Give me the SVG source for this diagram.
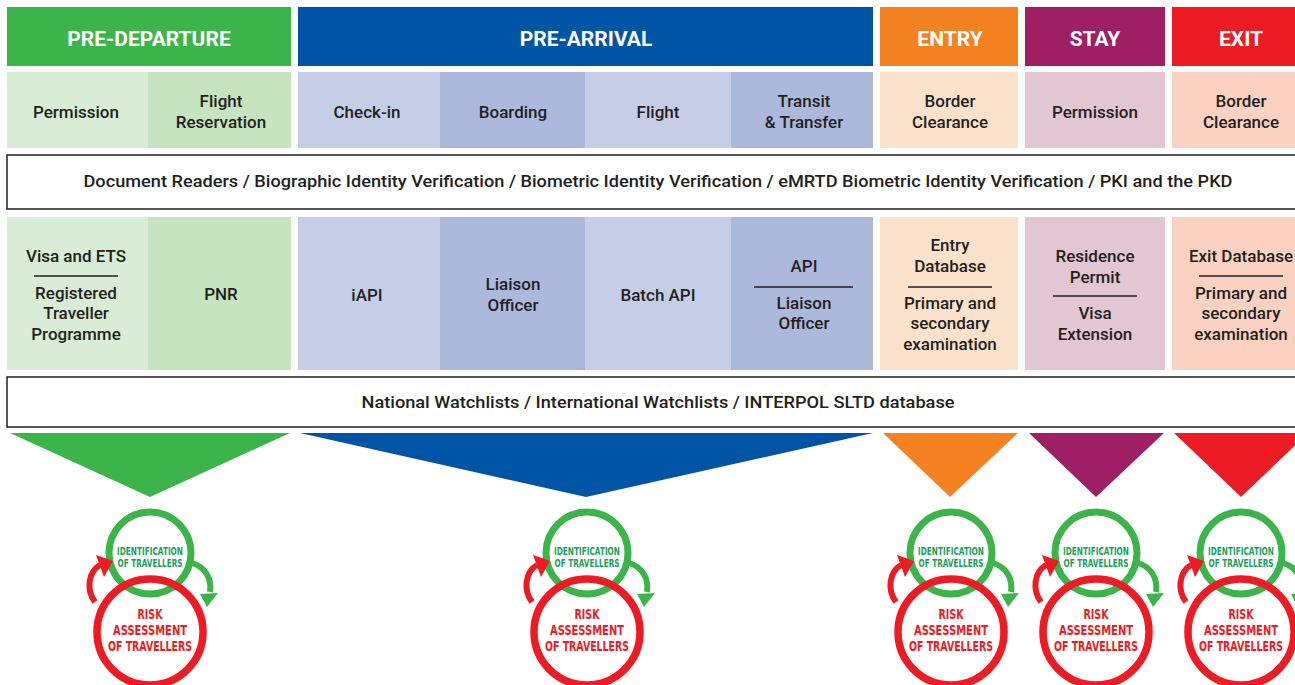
<svg xmlns="http://www.w3.org/2000/svg" width="1295" height="685" viewBox="0 0 1295 685">
<style>
.h{font-family:Roboto,"Liberation Sans",sans-serif;font-weight:bold;font-size:21px;fill:#fff;text-anchor:middle}
.t{font-family:Roboto,"Liberation Sans",sans-serif;font-weight:500;font-size:17px;fill:#231f20;text-anchor:middle}
.b{font-family:Roboto,"Liberation Sans",sans-serif;font-weight:500;font-size:17px;fill:#231f20;text-anchor:middle}
.sep{stroke:#231f20;stroke-width:1.3}
.bar{fill:#fff;stroke:#231f20;stroke-width:1.5}
.gc{fill:none;stroke:#3bb54a;stroke-width:7}
.rc{fill:none;stroke:#ed1c24;stroke-width:7.5}
.ga{fill:none;stroke:#3bb54a;stroke-width:6}
.ra{fill:none;stroke:#ed1c24;stroke-width:6}
.it{font-family:"DejaVu Sans",sans-serif;font-weight:bold;font-size:11px;fill:#1a9e58;text-anchor:middle}
.rt{font-family:"DejaVu Sans",sans-serif;font-weight:bold;font-size:14.5px;fill:#ed1c24;text-anchor:middle}
</style>
<rect width="1295" height="685" fill="#fff"/>

<g id="hdr-pre-departure"><rect x="7" y="7" width="284" height="59" fill="#3bb54a"/><text class="h" x="149" y="46">PRE-DEPARTURE</text></g>
<g id="hdr-pre-arrival"><rect x="298" y="7" width="575" height="59" fill="#0054a6"/><text class="h" x="586" y="46">PRE-ARRIVAL</text></g>
<g id="hdr-entry"><rect x="880" y="7" width="138" height="59" fill="#f48221"/><text class="h" x="950" y="46">ENTRY</text></g>
<g id="hdr-stay"><rect x="1025" y="7" width="140" height="59" fill="#9e1f63"/><text class="h" x="1095" y="46">STAY</text></g>
<g id="hdr-exit"><rect x="1172" y="7" width="140" height="59" fill="#ed1c24"/><text class="h" x="1241" y="46">EXIT</text></g>

<g id="r2-permission"><rect x="7" y="72" width="141" height="76" fill="#d9ecd5"/><text class="t" x="76" y="118">Permission</text></g>
<g id="r2-flight-reservation"><rect x="148" y="72" width="143" height="76" fill="#c6e4c0"/><text class="t" x="221" y="107">Flight</text><text class="t" x="221" y="128">Reservation</text></g>
<g id="r2-checkin"><rect x="298" y="72" width="142" height="76" fill="#c5cde7"/><text class="t" x="367" y="118">Check-in</text></g>
<g id="r2-boarding"><rect x="440" y="72" width="145" height="76" fill="#adb9dc"/><text class="t" x="513" y="118">Boarding</text></g>
<g id="r2-flight"><rect x="585" y="72" width="146" height="76" fill="#c5cde7"/><text class="t" x="658" y="118">Flight</text></g>
<g id="r2-transit"><rect x="731" y="72" width="142" height="76" fill="#adb9dc"/><text class="t" x="804" y="107">Transit</text><text class="t" x="804" y="128">&amp; Transfer</text></g>
<g id="r2-border-entry"><rect x="880" y="72" width="138" height="76" fill="#fde2cb"/><text class="t" x="950" y="107">Border</text><text class="t" x="950" y="128">Clearance</text></g>
<g id="r2-stay-permission"><rect x="1025" y="72" width="140" height="76" fill="#e2c7d2"/><text class="t" x="1095" y="118">Permission</text></g>
<g id="r2-border-exit"><rect x="1172" y="72" width="140" height="76" fill="#fbd2c2"/><text class="t" x="1241" y="107">Border</text><text class="t" x="1241" y="128">Clearance</text></g>

<g id="bar-document"><rect class="bar" x="7" y="155" width="1300" height="54"/><text class="b" x="658" y="187" textLength="1149" lengthAdjust="spacingAndGlyphs">Document Readers / Biographic Identity Verification / Biometric Identity Verification / eMRTD Biometric Identity Verification / PKI and the PKD</text></g>

<g id="r3-visa"><rect x="7" y="217" width="141" height="153" fill="#d9ecd5"/><text class="t" x="76" y="262">Visa and ETS</text><line class="sep" x1="34" y1="276" x2="118" y2="276"/><text class="t" x="76" y="299">Registered</text><text class="t" x="76" y="319">Traveller</text><text class="t" x="76" y="340">Programme</text></g>
<g id="r3-pnr"><rect x="148" y="217" width="143" height="153" fill="#c6e4c0"/><text class="t" x="221" y="300">PNR</text></g>
<g id="r3-iapi"><rect x="298" y="217" width="142" height="153" fill="#c5cde7"/><text class="t" x="367" y="301">iAPI</text></g>
<g id="r3-liaison"><rect x="440" y="217" width="145" height="153" fill="#adb9dc"/><text class="t" x="513" y="290">Liaison</text><text class="t" x="513" y="311">Officer</text></g>
<g id="r3-batch"><rect x="585" y="217" width="146" height="153" fill="#c5cde7"/><text class="t" x="658" y="301">Batch API</text></g>
<g id="r3-api"><rect x="731" y="217" width="142" height="153" fill="#adb9dc"/><text class="t" x="804" y="272">API</text><line class="sep" x1="754" y1="287" x2="853" y2="287"/><text class="t" x="804" y="309">Liaison</text><text class="t" x="804" y="329">Officer</text></g>
<g id="r3-entry"><rect x="880" y="217" width="138" height="153" fill="#fde2cb"/><text class="t" x="950" y="251">Entry</text><text class="t" x="950" y="272">Database</text><line class="sep" x1="908" y1="287" x2="992" y2="287"/><text class="t" x="950" y="309">Primary and</text><text class="t" x="950" y="329">secondary</text><text class="t" x="950" y="350">examination</text></g>
<g id="r3-stay"><rect x="1025" y="217" width="140" height="153" fill="#e2c7d2"/><text class="t" x="1095" y="262">Residence</text><text class="t" x="1095" y="283">Permit</text><line class="sep" x1="1053" y1="296" x2="1137" y2="296"/><text class="t" x="1095" y="319">Visa</text><text class="t" x="1095" y="340">Extension</text></g>
<g id="r3-exit"><rect x="1172" y="217" width="140" height="153" fill="#fbd2c2"/><text class="t" x="1241" y="262">Exit Database</text><line class="sep" x1="1199" y1="276" x2="1283" y2="276"/><text class="t" x="1241" y="299">Primary and</text><text class="t" x="1241" y="319">secondary</text><text class="t" x="1241" y="340">examination</text></g>

<g id="bar-watchlists"><rect class="bar" x="7" y="377" width="1300" height="50"/><text class="b" x="658" y="408" textLength="593" lengthAdjust="spacingAndGlyphs">National Watchlists / International Watchlists / INTERPOL SLTD database</text></g>

<g id="tri-pre-departure"><polygon points="10,433 290,433 150,497" fill="#3bb54a"/></g>
<g id="tri-pre-arrival"><polygon points="300,433 873,433 586,497" fill="#0054a6"/></g>
<g id="tri-entry"><polygon points="883,433 1018,433 950,497" fill="#f48221"/></g>
<g id="tri-stay"><polygon points="1029,433 1164,433 1096,497" fill="#9e1f63"/></g>
<g id="tri-exit"><polygon points="1174,433 1308,433 1241,497" fill="#ed1c24"/></g>

<g id="cycle-pre-departure" transform="translate(150,0)">
<circle class="gc" cx="0" cy="553" r="41"/><circle class="rc" cx="0" cy="632" r="53"/>
<path class="ra" d="M-55,602 C-64,590 -62,572 -50,565"/><polygon points="-54,555 -46,577 -37,561" fill="#ed1c24"/>
<path class="ga" d="M42,563 C55,567 62,578 60,592"/><polygon points="50,594 68,593 57,607" fill="#3bb54a"/>
<text class="it" x="0" y="555" textLength="66" lengthAdjust="spacingAndGlyphs">IDENTIFICATION</text><text class="it" x="0" y="567" textLength="65" lengthAdjust="spacingAndGlyphs">OF TRAVELLERS</text>
<text class="rt" x="0" y="619" textLength="25" lengthAdjust="spacingAndGlyphs">RISK</text><text class="rt" x="0" y="635" textLength="74" lengthAdjust="spacingAndGlyphs">ASSESSMENT</text><text class="rt" x="0" y="651" textLength="84" lengthAdjust="spacingAndGlyphs">OF TRAVELLERS</text>
</g>
<g id="cycle-pre-arrival" transform="translate(587,0)">
<circle class="gc" cx="0" cy="553" r="41"/><circle class="rc" cx="0" cy="632" r="53"/>
<path class="ra" d="M-55,602 C-64,590 -62,572 -50,565"/><polygon points="-54,555 -46,577 -37,561" fill="#ed1c24"/>
<path class="ga" d="M42,563 C55,567 62,578 60,592"/><polygon points="50,594 68,593 57,607" fill="#3bb54a"/>
<text class="it" x="0" y="555" textLength="66" lengthAdjust="spacingAndGlyphs">IDENTIFICATION</text><text class="it" x="0" y="567" textLength="65" lengthAdjust="spacingAndGlyphs">OF TRAVELLERS</text>
<text class="rt" x="0" y="619" textLength="25" lengthAdjust="spacingAndGlyphs">RISK</text><text class="rt" x="0" y="635" textLength="74" lengthAdjust="spacingAndGlyphs">ASSESSMENT</text><text class="rt" x="0" y="651" textLength="84" lengthAdjust="spacingAndGlyphs">OF TRAVELLERS</text>
</g>
<g id="cycle-entry" transform="translate(951,0)">
<circle class="gc" cx="0" cy="553" r="41"/><circle class="rc" cx="0" cy="632" r="53"/>
<path class="ra" d="M-55,602 C-64,590 -62,572 -50,565"/><polygon points="-54,555 -46,577 -37,561" fill="#ed1c24"/>
<path class="ga" d="M42,563 C55,567 62,578 60,592"/><polygon points="50,594 68,593 57,607" fill="#3bb54a"/>
<text class="it" x="0" y="555" textLength="66" lengthAdjust="spacingAndGlyphs">IDENTIFICATION</text><text class="it" x="0" y="567" textLength="65" lengthAdjust="spacingAndGlyphs">OF TRAVELLERS</text>
<text class="rt" x="0" y="619" textLength="25" lengthAdjust="spacingAndGlyphs">RISK</text><text class="rt" x="0" y="635" textLength="74" lengthAdjust="spacingAndGlyphs">ASSESSMENT</text><text class="rt" x="0" y="651" textLength="84" lengthAdjust="spacingAndGlyphs">OF TRAVELLERS</text>
</g>
<g id="cycle-stay" transform="translate(1096,0)">
<circle class="gc" cx="0" cy="553" r="41"/><circle class="rc" cx="0" cy="632" r="53"/>
<path class="ra" d="M-55,602 C-64,590 -62,572 -50,565"/><polygon points="-54,555 -46,577 -37,561" fill="#ed1c24"/>
<path class="ga" d="M42,563 C55,567 62,578 60,592"/><polygon points="50,594 68,593 57,607" fill="#3bb54a"/>
<text class="it" x="0" y="555" textLength="66" lengthAdjust="spacingAndGlyphs">IDENTIFICATION</text><text class="it" x="0" y="567" textLength="65" lengthAdjust="spacingAndGlyphs">OF TRAVELLERS</text>
<text class="rt" x="0" y="619" textLength="25" lengthAdjust="spacingAndGlyphs">RISK</text><text class="rt" x="0" y="635" textLength="74" lengthAdjust="spacingAndGlyphs">ASSESSMENT</text><text class="rt" x="0" y="651" textLength="84" lengthAdjust="spacingAndGlyphs">OF TRAVELLERS</text>
</g>
<g id="cycle-exit" transform="translate(1241,0)">
<circle class="gc" cx="0" cy="553" r="41"/><circle class="rc" cx="0" cy="632" r="53"/>
<path class="ra" d="M-55,602 C-64,590 -62,572 -50,565"/><polygon points="-54,555 -46,577 -37,561" fill="#ed1c24"/>
<path class="ga" d="M42,563 C55,567 62,578 60,592"/><polygon points="50,594 68,593 57,607" fill="#3bb54a"/>
<text class="it" x="0" y="555" textLength="66" lengthAdjust="spacingAndGlyphs">IDENTIFICATION</text><text class="it" x="0" y="567" textLength="65" lengthAdjust="spacingAndGlyphs">OF TRAVELLERS</text>
<text class="rt" x="0" y="619" textLength="25" lengthAdjust="spacingAndGlyphs">RISK</text><text class="rt" x="0" y="635" textLength="74" lengthAdjust="spacingAndGlyphs">ASSESSMENT</text><text class="rt" x="0" y="651" textLength="84" lengthAdjust="spacingAndGlyphs">OF TRAVELLERS</text>
</g>
<g id="connectors"></g>
</svg>
